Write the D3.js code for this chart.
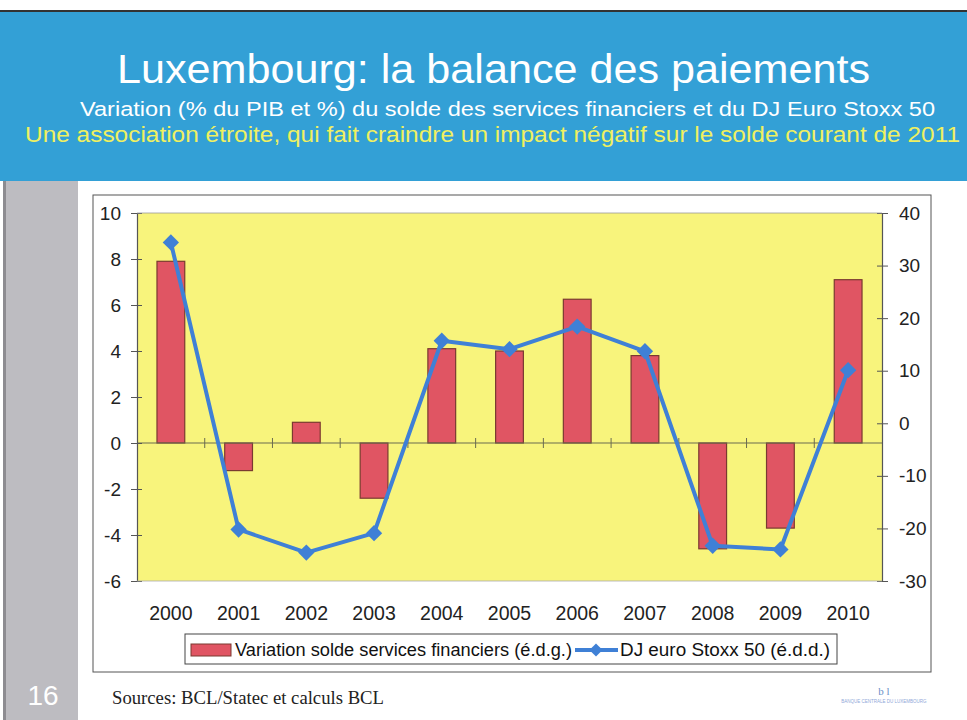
<!DOCTYPE html>
<html><head><meta charset="utf-8">
<script src="https://cdn.jsdelivr.net/npm/d3@7"></script>
<style>body{margin:0;background:#fff;}svg{display:block;font-family:Arial,"Liberation Sans",sans-serif;}</style>
</head><body>
<svg id="c" width="967" height="720"></svg>
<script>
const years = ["2000","2001","2002","2003","2004","2005","2006","2007","2008","2009","2010"];
const servicesVar = [7.9, -1.2, 0.9, -2.4, 4.1, 4.0, 6.25, 3.8, -4.6, -3.7, 7.1];
const stoxxVar = [34.4, -20.2, -24.6, -20.9, 15.7, 14.1, 18.4, 13.7, -23.3, -24.0, 10.1];
const leftTicks = [-6, -4, -2, 0, 2, 4, 6, 8, 10];
const rightTicks = [-30, -20, -10, 0, 10, 20, 30, 40];
const titleText = "Luxembourg: la balance des paiements";
const subtitleText = "Variation (% du PIB et %) du solde des services financiers et du DJ Euro Stoxx 50";
const subtitle2Text = "Une association étroite, qui fait craindre un impact négatif sur le solde courant de 2011";
const legendLabels = ["Variation solde services financiers (é.d.g.)", "DJ euro Stoxx 50 (é.d.d.)"];
const sourceText = "Sources: BCL/Statec et calculs BCL";
const slideNumber = "16";

const svg = d3.select("#c");
const fmt = d => String(d); // plain hyphen minus as in the reference

// header
svg.append("rect").attr("x",0).attr("y",10).attr("width",967).attr("height",2).attr("fill","#333");
svg.append("rect").attr("x",0).attr("y",12).attr("width",967).attr("height",169).attr("fill","#33a0d6");
svg.append("text").attr("x",117).attr("y",83).attr("fill","#fff")
  .attr("font-size",40).attr("textLength",753).attr("lengthAdjust","spacingAndGlyphs").text(titleText);
svg.append("text").attr("x",80).attr("y",116).attr("fill","#fff")
  .attr("font-size",20.5).attr("textLength",855).attr("lengthAdjust","spacingAndGlyphs").text(subtitleText);
svg.append("text").attr("x",25).attr("y",142).attr("fill","#f0f060")
  .attr("font-size",21.5).attr("textLength",935).attr("lengthAdjust","spacingAndGlyphs").text(subtitle2Text);

// side strip
svg.append("rect").attr("x",3).attr("y",181).attr("width",75).attr("height",539).attr("fill","#bdbcc1");
svg.append("rect").attr("x",3).attr("y",181).attr("width",3).attr("height",539).attr("fill","#8d8c91");
svg.append("text").attr("x",43).attr("y",705).attr("text-anchor","middle").attr("fill","#fff")
  .attr("font-size",28).text(slideNumber);

// chart box
svg.append("rect").attr("x",93).attr("y",195).attr("width",838).attr("height",477)
  .attr("fill","#fff").attr("stroke","#555").attr("stroke-width",1);

const X0 = 137, X1 = 882, Y0 = 213, Y1 = 581;
const x = d3.scaleBand().domain(years).range([X0, X1]).paddingInner(0.59).paddingOuter(0.295);
const yL = d3.scaleLinear().domain([-6, 10]).range([Y1, Y0]);
const yR = d3.scaleLinear().domain([-30, 40]).range([Y1, Y0]);

svg.append("rect").attr("x",X0).attr("y",Y0).attr("width",X1-X0).attr("height",Y1-Y0).attr("fill","#f8f47c");

// bars
svg.append("g").selectAll("rect").data(years).join("rect")
  .attr("x", d => x(d))
  .attr("width", x.bandwidth())
  .attr("y", (d,i) => Math.min(yL(servicesVar[i]), yL(0)))
  .attr("height", (d,i) => Math.abs(yL(servicesVar[i]) - yL(0)))
  .attr("fill","#e05563").attr("stroke","#7a3a30").attr("stroke-width",1.2);

// zero line with category ticks
svg.append("line").attr("x1",X0).attr("x2",X1).attr("y1",yL(0)).attr("y2",yL(0)).attr("stroke","#6b6b50").attr("stroke-width",1.2);
const bounds = d3.range(1, years.length).map(i => X0 + i*(X1-X0)/years.length);
svg.append("g").selectAll("line").data(bounds).join("line")
  .attr("x1",d=>d).attr("x2",d=>d).attr("y1",yL(0)-5).attr("y2",yL(0)+5).attr("stroke","#6b6b50").attr("stroke-width",1);

// axes
const axL = d3.axisLeft(yL).tickValues(leftTicks).tickFormat(fmt).tickSize(6).tickPadding(10);
const gL = svg.append("g").attr("transform",`translate(${X0},0)`).call(axL);
const axR = d3.axisRight(yR).tickValues(rightTicks).tickFormat(fmt).tickSize(6).tickPadding(11);
const gR = svg.append("g").attr("transform",`translate(${X1},0)`).call(axR);
[gL,gR].forEach(g=>{
  g.select(".domain").attr("stroke","#555").attr("stroke-width",1.2);
  g.selectAll(".tick line").attr("stroke","#555");
  g.selectAll(".tick text").attr("font-size",19).attr("fill","#222").attr("font-family","Arial, 'Liberation Sans', sans-serif");
});
gL.selectAll(".tick line").attr("x1",5);
gR.selectAll(".tick line").attr("x1",-5);
svg.append("line").attr("x1",X0).attr("x2",X1).attr("y1",Y0).attr("y2",Y0).attr("stroke","#999").attr("stroke-width",0.8);
svg.append("line").attr("x1",X0).attr("x2",X1).attr("y1",Y1).attr("y2",Y1).attr("stroke","#aaa").attr("stroke-width",0.8);

const axB = d3.axisBottom(x).tickSize(0).tickPadding(0);
const gB = svg.append("g").attr("transform",`translate(0,620)`).call(axB);
gB.select(".domain").remove();
gB.selectAll(".tick text").attr("font-size",19.5).attr("fill","#222").attr("dy","0").attr("font-family","Arial, 'Liberation Sans', sans-serif");

// line
const lineGen = d3.line().x((d,i)=>x(years[i])+x.bandwidth()/2).y(d=>yR(d));
svg.append("path").datum(stoxxVar).attr("d",lineGen).attr("fill","none").attr("stroke","#3f80d6").attr("stroke-width",4).attr("stroke-linejoin","round");
const diamond = d3.symbol().type(d3.symbolDiamond2).size(170);
svg.append("g").selectAll("path").data(stoxxVar).join("path")
  .attr("d", diamond)
  .attr("transform",(d,i)=>`translate(${x(years[i])+x.bandwidth()/2},${yR(d)})`)
  .attr("fill","#3f80d6");

// legend
const lg = svg.append("g");
lg.append("rect").attr("x",185).attr("y",634).attr("width",652).attr("height",30).attr("fill","#fff").attr("stroke","#444").attr("stroke-width",1);
lg.append("rect").attr("x",191).attr("y",644).attr("width",40).attr("height",12).attr("fill","#e05563").attr("stroke","#7a3a30");
lg.append("text").attr("x",235).attr("y",656).attr("font-size",17.5).attr("fill","#111")
  .attr("textLength",337).attr("lengthAdjust","spacingAndGlyphs").text(legendLabels[0]);
lg.append("line").attr("x1",575).attr("x2",618).attr("y1",650).attr("y2",650).attr("stroke","#3f80d6").attr("stroke-width",4);
lg.append("path").attr("d",d3.symbol().type(d3.symbolDiamond2).size(110)).attr("transform","translate(596,650)").attr("fill","#3f80d6");
lg.append("text").attr("x",620).attr("y",656).attr("font-size",17.5).attr("fill","#111")
  .attr("textLength",210).attr("lengthAdjust","spacingAndGlyphs").text(legendLabels[1]);

// source
svg.append("text").attr("x",112).attr("y",704).attr("font-family","'Liberation Serif','DejaVu Serif',serif").attr("font-size",18).attr("fill","#222")
  .attr("textLength",272).attr("lengthAdjust","spacingAndGlyphs").text(sourceText);
svg.append("text").attr("x",884).attr("y",695).attr("text-anchor","middle").attr("font-size",11).attr("fill","#6b8fc8").attr("font-family","'Liberation Serif',serif").text("b l");
svg.append("text").attr("x",884).attr("y",703).attr("text-anchor","middle").attr("font-size",4.5).attr("fill","#8fa8d8").text("BANQUE CENTRALE DU LUXEMBOURG");
</script>
</body></html>
